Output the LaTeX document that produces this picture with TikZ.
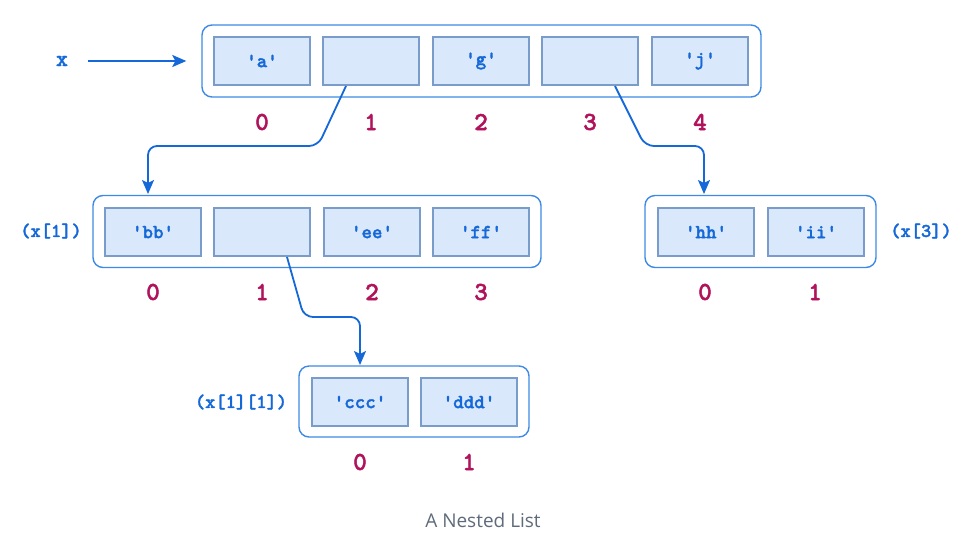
\documentclass[tikz,border=0pt]{standalone}
\usepackage{fontspec}
\newfontfamily\codefont{lmmonolt10-bold.otf}[FakeBold=1.6]
\newfontfamily\capfont{Open Sans}
\usetikzlibrary{arrows.meta,calc}
\definecolor{cellfill}{HTML}{DAE8FC}
\definecolor{celledge}{HTML}{7A9CCB}
\definecolor{boxedge}{HTML}{3D8AE6}
\definecolor{linkblue}{HTML}{1468D8}
\definecolor{idxred}{HTML}{B0125B}
\definecolor{captiongray}{HTML}{5F6B7A}
\begin{document}
\begin{tikzpicture}[x=1pt,y=-1pt,
  listbox/.style={draw=boxedge, fill=white, line width=1.4pt, rounded corners=10pt,
    minimum height=72pt, inner sep=0pt},
  cell/.style={draw=celledge, fill=cellfill, line width=2pt, minimum width=96pt,
    minimum height=48pt, inner sep=0pt, text=linkblue,
    font=\codefont\fontsize{20}{20}\selectfont},
  idx/.style={text=idxred, font=\codefont\fontsize{26}{26}\selectfont},
  lbl/.style={text=linkblue, font=\codefont\fontsize{19.5}{19.5}\selectfont},
  link/.style={draw=linkblue, line width=1.8pt, rounded corners=9pt,
    -{Stealth[length=14pt,width=12pt,inset=3pt]}}]
\path[use as bounding box] (0,0) rectangle (966,547);

% top-level list x
\node[listbox, minimum width=559pt] (top) at (481.5,61) {};
\node[cell] (t0) at (262,61) {'a'};
\node[cell] (t1) at (371,61) {};
\node[cell] (t2) at (481,61) {'g'};
\node[cell] (t3) at (590,61) {};
\node[cell] (t4) at (700,61) {'j'};
\foreach \i/\xx in {0/262,1/371,2/481,3/590,4/700}
  \node[idx] (ti\i) at (\xx,122) {\i};
\node[lbl, font=\codefont\fontsize{23}{23}\selectfont] (xname) at (62,61) {x};

% x[1]
\node[listbox, minimum width=448pt] (b1) at (317,231.5) {};
\node[cell] (b10) at (153,232) {'bb'};
\node[cell] (b11) at (262,232) {};
\node[cell] (b12) at (372,232) {'ee'};
\node[cell] (b13) at (481,232) {'ff'};
\foreach \i/\xx in {0/153,1/262,2/372,3/481}
  \node[idx] (b1i\i) at (\xx,292) {\i};
\node[lbl] (b1name) at (51,231) {(x[1])};

% x[3]
\node[listbox, minimum width=231pt] (b3) at (760.5,231.5) {};
\node[cell] (b30) at (706,232) {'hh'};
\node[cell] (b31) at (816,232) {'ii'};
\foreach \i/\xx in {0/705,1/815}
  \node[idx] (b3i\i) at (\xx,292) {\i};
\node[lbl] (b3name) at (921,231) {(x[3])};

% x[1][1]
\node[listbox, minimum width=230pt, minimum height=71pt] (b11l) at (414,401.5) {};
\node[cell] (c0) at (360,402) {'ccc'};
\node[cell] (c1) at (469,402) {'ddd'};
\foreach \i/\xx in {0/360,1/469}
  \node[idx] (ci\i) at (\xx,462) {\i};
\node[lbl] (cname) at (241,402) {(x[1][1])};

% connectors
\coordinate (xs) at ($(xname.east)+(16,0)$);
\coordinate (xe) at ($(top.west)+(-15,0)$);
\draw[link] (xs) -- (xe);

\coordinate (s1) at ($(t1.south)+(-25,0)$);
\coordinate (e1) at (148,194);
\draw[link] (s1) -- (318,146) -- (148,146) -- (e1);

\coordinate (s3) at ($(t3.south)+(25,0)$);
\coordinate (e3) at (704,194);
\draw[link] (s3) -- (645,146) -- (704,146) -- (e3);

\coordinate (s11) at ($(b11.south)+(25,0)$);
\coordinate (e11) at (360,365);
\draw[link] (s11) -- (304,317) -- (360,317) -- (e11);

\node[text=captiongray, font=\capfont\fontsize{19}{19}\selectfont] (cap) at (483,520) {A Nested List};
\end{tikzpicture}
\end{document}
